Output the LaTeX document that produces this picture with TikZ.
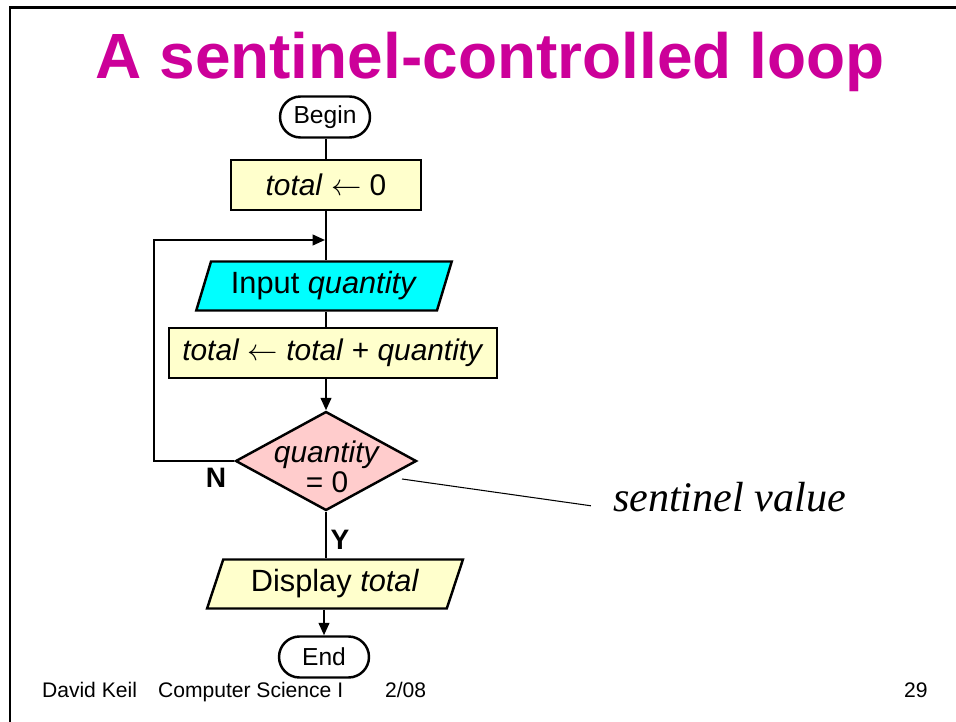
\documentclass[tikz,border=0pt]{standalone}
\usepackage{fontspec}
\setmainfont{Liberation Sans}
\newfontfamily\notefont{Liberation Serif}
\usetikzlibrary{shapes.geometric,shapes.misc,arrows.meta}
\tikzset{every picture/.style={line width=1.2pt}}
\definecolor{boxyellow}{HTML}{FFFFCC}
\definecolor{iocyan}{HTML}{00FFFF}
\definecolor{testpink}{HTML}{FFCCCC}
\definecolor{titlemagenta}{HTML}{CC0099}
\tikzset{
  terminal/.style={draw, line width=1.4pt, rounded rectangle, minimum width=1.8cm,
    minimum height=0.82cm, inner sep=0pt, font=\fontsize{14}{16}\selectfont},
  process/.style={draw, line width=1.4pt, fill=boxyellow, minimum height=1cm,
    inner sep=4pt, font=\fontsize{17}{20}\selectfont},
  io/.style={draw, line width=1.4pt, trapezium, trapezium left angle=67,
    trapezium right angle=113, trapezium stretches=true, minimum width=5.12cm,
    minimum height=0.98cm, inner sep=0pt, font=\fontsize{17.5}{20}\selectfont},
  test/.style={draw, line width=1.4pt, fill=testpink, diamond, aspect=1.83,
    minimum width=3.62cm, minimum height=1.98cm, inner sep=0pt},
  testtext/.style={align=center, inner sep=0pt, font=\fontsize{17}{17}\selectfont},
  flow/.style={-{Triangle[length=7pt,width=6pt]}},
  branch/.style={font=\fontsize{16}{19}\selectfont\bfseries},
  footer/.style={anchor=base west, inner sep=0pt, font=\fontsize{12}{14}\selectfont}
}

\begin{document}
\begin{tikzpicture}[x=0.02cm, y=-0.02cm]
    \useasboundingbox (0,0) rectangle (956,722);
    % slide frame
    \draw[line width=1.7pt] (10,722) -- (10,8) -- (956,8);
    \node[anchor=base, text=titlemagenta, font=\fontsize{36.4}{40}\selectfont\bfseries]
        (title) at (490,79) {A sentinel-controlled loop};

    \node[terminal] (begin) at (325,117) {Begin};
    \node[process, minimum width=3.8cm] (init) at (326,185) {\textit{total} $\leftarrow$ 0};
    \coordinate (loopin) at (325,240);
    \node[io, fill=iocyan] (input) at (324,286) {Input \textit{quantity}};
    \node[process, minimum width=6.56cm] (add) at (333,353)
        {\textit{total} $\leftarrow$ \textit{total} + \textit{quantity}};
    \node[test] (check) at (326,461) {};
    \node[testtext] (checktext) at (327,467) {\textit{quantity}\\= 0};
    \node[io, fill=boxyellow] (display) at (335,584) {Display \textit{total}};
    \node[terminal] (end) at (324,657) {End};

    % main flow
    \draw (begin.south -| check.north) -- (init.north -| check.north);
    \draw (init.south -| check.north) -- (input.north -| check.north);
    \draw (input.south -| check.north) -- (add.north -| check.north);
    \draw[flow] (add.south -| check.north) -- (check.north);
    \draw (check.south) -- (display.north -| check.south);
    \draw[flow] (display.south -| end.north) -- (end.north);
    % back edge of the loop
    \draw[flow] (check.west) -- ++(-80,0) |- (loopin);
    \node[branch] (no) at (216,478) {N};
    \node[branch] (yes) at (340,540) {Y};

    % annotation
    \node[anchor=west, inner sep=0pt, font=\fontsize{24}{26}\notefont\itshape]
        (note) at (612,497) {sentinel value};
    \coordinate (notept) at (402,479);
    \draw[line width=0.6pt] (notept) -- ([xshift=-12,yshift=-5]note.west);

    % footer
    \node[footer] (author) at (41,697) {David Keil};
    \node[footer] (course) at (157,697) {Computer Science I};
    \node[footer] (date) at (384,697) {2/08};
    \node[footer] (page) at (903,697) {29};
\end{tikzpicture}
\end{document}
